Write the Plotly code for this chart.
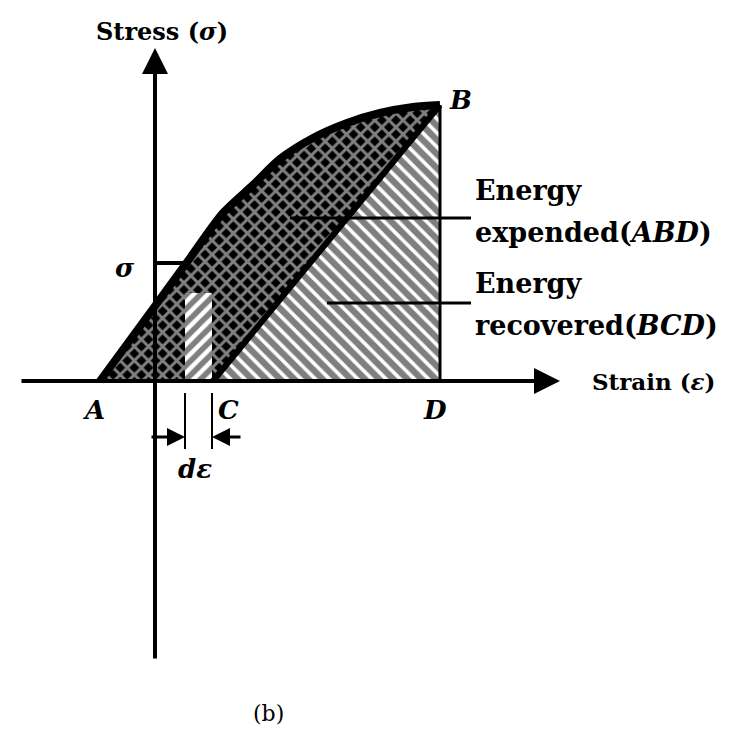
import plotly.graph_objects as go

# Stress-strain loading curve A -> B (strain, stress), origin at axis crossing
curve_strain = [-55, 0, 35, 68, 98, 125, 158, 192, 225, 258, 285]
curve_stress = [0, 75, 123, 168, 196, 222, 243, 258, 268, 274, 276]

# Key points
point_A = (-55, 0)
point_B = (285, 276)
point_C = (58, 0)
point_D = (285, 0)
sigma_level = 118
strip_edges = [30, 57]      # the d-epsilon strip
strip_top = 88

BLACK = "black"
FONT = "DejaVu Serif"

fig = go.Figure()

# Energy expended region: under the loading curve and above unloading line CB
exp_x = curve_strain + [point_C[0], point_A[0]]
exp_y = curve_stress + [point_C[1], point_A[1]]
fig.add_trace(go.Scatter(
    x=exp_x, y=exp_y, mode="lines", fill="toself", line=dict(width=0, color=BLACK),
    line_shape="linear",
    fillpattern=dict(shape="x", fgcolor="white", bgcolor=BLACK, size=10, solidity=0.5),
    hoverinfo="skip", showlegend=False))

# Energy recovered region BCD
fig.add_trace(go.Scatter(
    x=[point_C[0], point_B[0], point_D[0], point_C[0]],
    y=[point_C[1], point_B[1], point_D[1], point_C[1]],
    mode="lines", fill="toself", line=dict(width=0, color=BLACK),
    fillpattern=dict(shape="\\", fgcolor=BLACK, bgcolor="white", size=10, solidity=0.65),
    hoverinfo="skip", showlegend=False))

# d-epsilon strip
fig.add_trace(go.Scatter(
    x=[strip_edges[0], strip_edges[1], strip_edges[1], strip_edges[0], strip_edges[0]],
    y=[0, 0, strip_top, strip_top, 0],
    mode="lines", fill="toself", line=dict(width=0, color=BLACK),
    fillpattern=dict(shape="/", fgcolor=BLACK, bgcolor="white", size=10, solidity=0.55),
    hoverinfo="skip", showlegend=False))

# Unloading line C -> B
fig.add_trace(go.Scatter(x=[point_C[0], point_B[0]], y=[point_C[1], point_B[1]],
                         mode="lines", line=dict(color=BLACK, width=6),
                         hoverinfo="skip", showlegend=False))
# Vertical B -> D
fig.add_trace(go.Scatter(x=[point_B[0], point_D[0]], y=[point_B[1], point_D[1]],
                         mode="lines", line=dict(color=BLACK, width=3),
                         hoverinfo="skip", showlegend=False))
# Loading curve
fig.add_trace(go.Scatter(x=curve_strain, y=curve_stress, mode="lines",
                         line=dict(color=BLACK, width=8, shape="spline", smoothing=0.8),
                         hoverinfo="skip", showlegend=False))
# Stress level marker sigma
fig.add_trace(go.Scatter(x=[0, 35], y=[sigma_level, sigma_level], mode="lines",
                         line=dict(color=BLACK, width=4),
                         hoverinfo="skip", showlegend=False))
# Strip ticks below the strain axis
for xe in strip_edges:
    fig.add_trace(go.Scatter(x=[xe, xe], y=[-12, -68], mode="lines",
                             line=dict(color=BLACK, width=2),
                             hoverinfo="skip", showlegend=False))
# Leader lines for energy labels
fig.add_trace(go.Scatter(x=[135, 316], y=[163, 163], mode="lines",
                         line=dict(color=BLACK, width=3),
                         hoverinfo="skip", showlegend=False))
fig.add_trace(go.Scatter(x=[172, 316], y=[78, 78], mode="lines",
                         line=dict(color=BLACK, width=3),
                         hoverinfo="skip", showlegend=False))

annotations = []

def arrow(x0, y0, x1, y1, width=4, size=1.0):
    annotations.append(dict(x=x1, y=y1, ax=x0, ay=y0, xref="x", yref="y",
                            axref="x", ayref="y", text="", showarrow=True,
                            arrowhead=2, arrowsize=size, arrowwidth=width,
                            arrowcolor=BLACK))

# Axes
arrow(0, -279, 0, 333, width=4, size=1.3)
arrow(-135, 0, 405, 0, width=4, size=1.3)
# d-epsilon dimension arrows
arrow(-5, -56, strip_edges[0], -56, width=3, size=1.2)
arrow(87, -56, strip_edges[1], -56, width=3, size=1.2)

def label(x, y, text, size=26, italic=False, bold=True, anchor="center"):
    t = text
    if bold:
        t = "<b>" + t + "</b>"
    if italic:
        t = "<i>" + t + "</i>"
    annotations.append(dict(x=x, y=y, xref="x", yref="y", text=t, showarrow=False,
                            xanchor=anchor, yanchor="middle",
                            font=dict(family=FONT, size=size, color=BLACK)))

label(7, 350, "Stress (<i>σ</i>)", size=24)
label(435, 0, "Strain (<i>ε</i>)", size=23, anchor="left")
label(-62, -29, "A", italic=True)
label(73, -29, "C", italic=True)
label(280, -29, "D", italic=True)
label(305, 281, "B", italic=True)
label(-30, 113, "σ", italic=True)
label(40, -88, "dε", italic=True)
label(318, 191, "Energy", size=27, anchor="left")
label(318, 149, "expended(<i>ABD</i>)", size=27, anchor="left")
label(318, 98, "Energy", size=27, anchor="left")
label(318, 56, "recovered(<i>BCD</i>)", size=27, anchor="left")
label(113, -332, "(b)", size=22, bold=False)

fig.update_layout(
    width=755, height=739, margin=dict(l=0, r=0, t=0, b=0),
    paper_bgcolor="white", plot_bgcolor="white",
    xaxis=dict(range=[-155, 600], visible=False, fixedrange=True),
    yaxis=dict(range=[-358, 381], visible=False, fixedrange=True),
    annotations=annotations, showlegend=False)

fig.write_html("out.html")
